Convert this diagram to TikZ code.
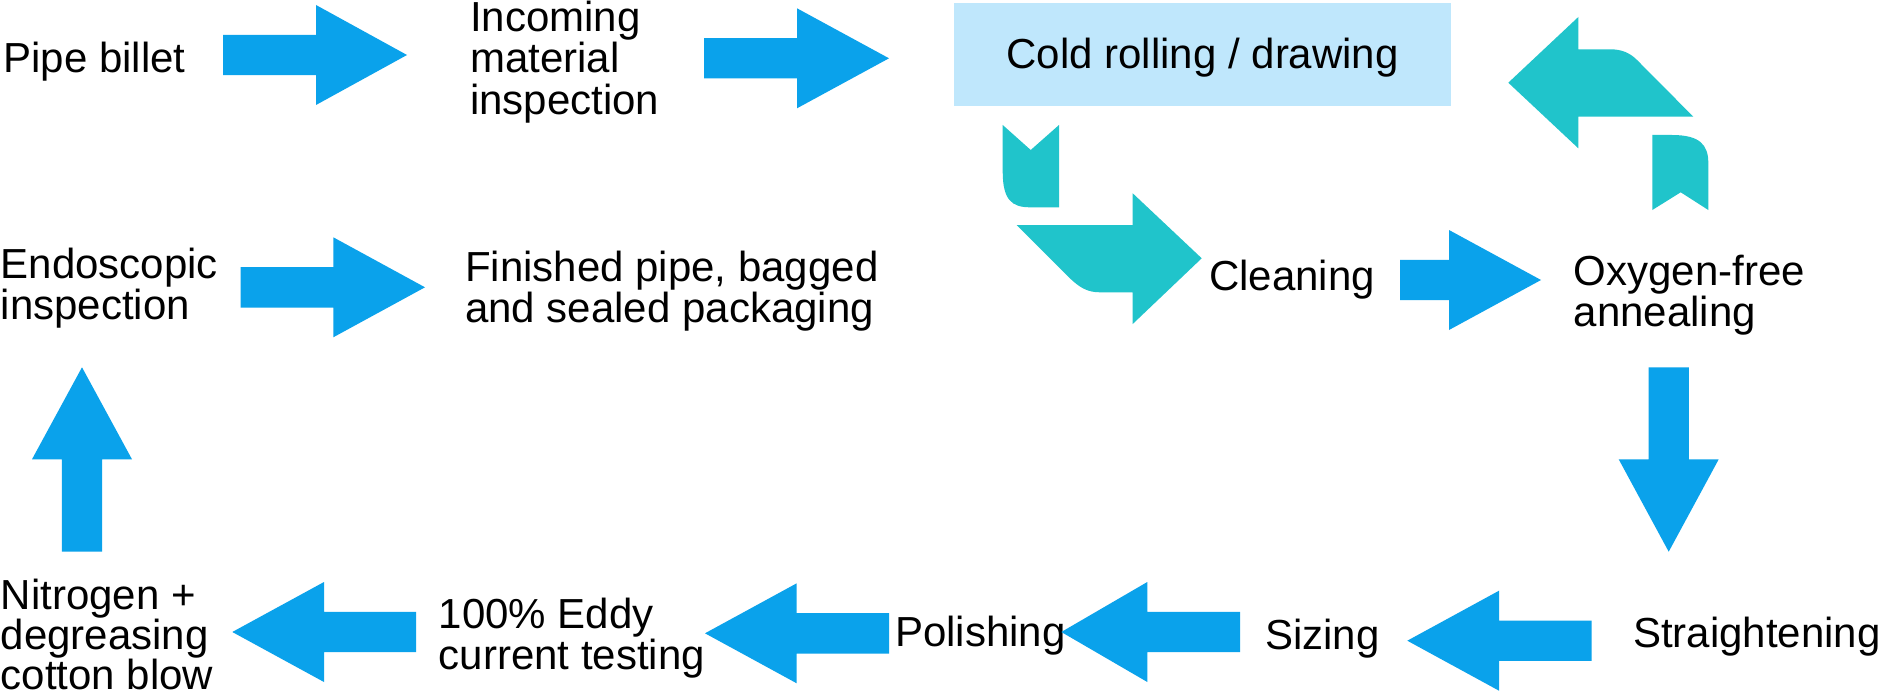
\documentclass[tikz,border=0pt]{standalone}
\usepackage{fontspec}
\setmainfont{Liberation Sans}
\definecolor{arrowblue}{RGB}{10,162,235}
\definecolor{arrowteal}{RGB}{32,196,203}
\definecolor{boxblue}{RGB}{191,231,252}
\newcommand{\blockarrow}[4]{\fill[arrowblue, shift={(#1)}, rotate=#2] (0,-20.2) -- (#3,-20.2) -- (#3,-50) -- ({#3+#4},0) -- (#3,50) -- (#3,20.2) -- (0,20.2) -- cycle;}
\begin{document}
\begin{tikzpicture}[x=1pt,y=-1pt,
  lbl/.style={font=\fontsize{42pt}{41.3pt}\selectfont, inner sep=0pt, anchor=north west, align=left},
  procbox/.style={fill=boxblue, draw=none, inner sep=0pt, minimum width=496.7pt, minimum height=103pt,
    font=\fontsize{42pt}{41.3pt}\selectfont, text height=35pt, text depth=8.6pt}]
\useasboundingbox (0,0) rectangle (1878,695);
\fill[white] (0,0) rectangle (1878,695);

% process steps
\node[lbl] (pipe) at (3.4,41.6) {Pipe billet};
\node[lbl] (incoming) at (470,0.9) {Incoming\\material\\inspection};
\node[procbox] (cold) at (1202.7,55) {Cold rolling / drawing};
\node[lbl] (cleaning) at (1209,259.9) {Cleaning};
\node[lbl] (anneal) at (1573.5,254.9) {Oxygen-free\\annealing};
\node[lbl] (straight) at (1633,616.6) {Straightening};
\node[lbl] (sizing) at (1265,618.9) {Sizing};
\node[lbl] (polish) at (895,615.9) {Polishing};
\node[lbl] (eddy) at (438.5,597.9) {100\% Eddy\\current testing};
\node[lbl, font=\fontsize{42pt}{37.8pt}\selectfont] (nitrogen) at (0.5,579) {Nitrogen +\\degreasing\\cotton blow};
\node[lbl] (endo) at (0.5,247.6) {Endoscopic\\inspection};
\node[lbl] (finished) at (465,250.4) {Finished pipe, bagged\\and sealed packaging};

% blue block arrows (tail points)
\coordinate (a1) at (223,55);
\coordinate (a2) at (704,58.3);
\coordinate (a3) at (1400,280);
\coordinate (a4) at (1668.7,367.3);
\coordinate (a5) at (1591.7,640.7);
\coordinate (a6) at (1240,632);
\coordinate (a7) at (889,633.3);
\coordinate (a8) at (416,632);
\coordinate (a9) at (82,551.7);
\coordinate (a10) at (240.7,287.3);
\blockarrow{a1}{0}{93}{91}
\blockarrow{a2}{0}{93}{92}
\blockarrow{a3}{0}{49}{92}
\blockarrow{a4}{-90}{92}{92.4}
\blockarrow{a5}{180}{92.7}{91.7}
\blockarrow{a6}{180}{92.7}{86}
\blockarrow{a7}{180}{92.3}{91.7}
\blockarrow{a8}{180}{92}{91.7}
\blockarrow{a9}{90}{92.4}{92}
\blockarrow{a10}{0}{92.6}{91.7}

% teal bent arrow: cold rolling -> cleaning
\fill[arrowteal] (1002.7,125) -- (1030.7,150) -- (1059,125) -- (1059,207.3) -- (1030,207.3)
  .. controls (1012,207.3) and (1002.7,200) .. (1002.7,171.7) -- cycle;
\fill[arrowteal] (1016.7,225) -- (1132.7,225) -- (1132.7,193.3) -- (1201.7,258.3) -- (1132.7,324)
  -- (1132.7,292.3) -- (1100,292.3) .. controls (1088,292.3) and (1080,288.3) .. (1068.3,276.7) -- cycle;

% teal bent arrow: annealing -> cold rolling
\fill[arrowteal] (1508.3,82.7) -- (1578.3,17) -- (1578.3,49.3) -- (1610,49.3)
  .. controls (1622,49.3) and (1630,53) .. (1637,60) -- (1693.3,116.7) -- (1578.3,116.7) -- (1578.3,148.3) -- cycle;
\fill[arrowteal] (1652.3,135) -- (1672,135) .. controls (1700,135) and (1708.3,145) .. (1708.3,163)
  -- (1708.3,210) -- (1680.7,192.3) -- (1652.3,210) -- cycle;
\end{tikzpicture}
\end{document}
